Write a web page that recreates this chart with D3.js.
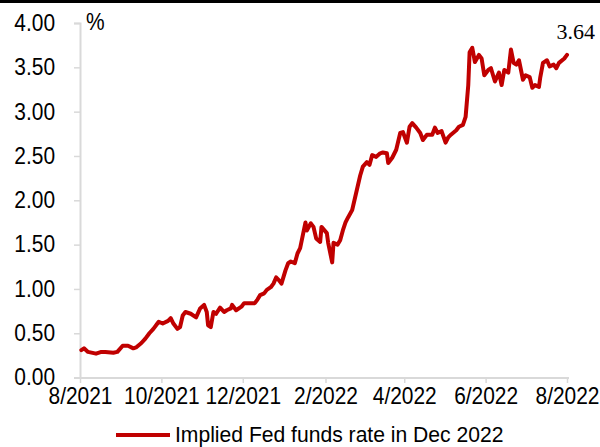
<!DOCTYPE html>
<html><head><meta charset="utf-8">
<script src="https://cdn.jsdelivr.net/npm/d3@7"></script>
<style>body{margin:0;background:#fff}svg{display:block}</style>
</head><body><svg id="c" width="600" height="447"></svg>
<script>
const dates = ["2021-08-02","2021-08-04","2021-08-07","2021-08-13","2021-08-17","2021-08-20","2021-08-26","2021-08-29","2021-09-02","2021-09-06","2021-09-10","2021-09-12","2021-09-16","2021-09-19","2021-09-22","2021-09-25","2021-09-28","2021-09-29","2021-10-02","2021-10-06","2021-10-08","2021-10-10","2021-10-13","2021-10-15","2021-10-17","2021-10-19","2021-10-23","2021-10-27","2021-10-30","2021-11-02","2021-11-04","2021-11-05","2021-11-07","2021-11-09","2021-11-11","2021-11-14","2021-11-17","2021-11-19","2021-11-22","2021-11-23","2021-11-26","2021-11-30","2021-12-02","2021-12-06","2021-12-10","2021-12-12","2021-12-14","2021-12-17","2021-12-19","2021-12-22","2021-12-24","2021-12-26","2021-12-28","2021-12-30","2022-01-02","2022-01-04","2022-01-06","2022-01-09","2022-01-11","2022-01-13","2022-01-17","2022-01-18","2022-01-21","2022-01-23","2022-01-25","2022-01-28","2022-01-29","2022-02-02","2022-02-03","2022-02-06","2022-02-07","2022-02-10","2022-02-12","2022-02-14","2022-02-16","2022-02-18","2022-02-21","2022-02-23","2022-02-25","2022-02-27","2022-03-01","2022-03-04","2022-03-06","2022-03-08","2022-03-11","2022-03-14","2022-03-16","2022-03-19","2022-03-20","2022-03-23","2022-03-26","2022-03-29","2022-03-31","2022-04-03","2022-04-05","2022-04-07","2022-04-10","2022-04-13","2022-04-15","2022-04-18","2022-04-22","2022-04-24","2022-04-26","2022-04-29","2022-05-02","2022-05-04","2022-05-06","2022-05-10","2022-05-12","2022-05-15","2022-05-17","2022-05-19","2022-05-20","2022-05-22","2022-05-24","2022-05-27","2022-05-29","2022-05-31","2022-06-03","2022-06-05","2022-06-08","2022-06-11","2022-06-13","2022-06-15","2022-06-18","2022-06-20","2022-06-22","2022-06-24","2022-06-26","2022-06-29","2022-07-01","2022-07-04","2022-07-06","2022-07-08","2022-07-11","2022-07-12","2022-07-14","2022-07-17","2022-07-19","2022-07-22","2022-07-24","2022-07-26","2022-07-30","2022-08-01"];
const rates = [0.31,0.33,0.29,0.27,0.29,0.29,0.28,0.29,0.36,0.36,0.33,0.34,0.39,0.44,0.50,0.55,0.61,0.63,0.61,0.64,0.67,0.61,0.55,0.57,0.70,0.74,0.72,0.68,0.78,0.82,0.74,0.59,0.57,0.74,0.72,0.79,0.74,0.76,0.78,0.82,0.76,0.80,0.84,0.84,0.84,0.88,0.93,0.95,0.99,1.02,1.06,1.13,1.10,1.06,1.21,1.29,1.31,1.29,1.40,1.46,1.75,1.66,1.74,1.70,1.57,1.53,1.70,1.63,1.52,1.30,1.52,1.50,1.55,1.66,1.75,1.81,1.89,2.02,2.15,2.28,2.38,2.43,2.40,2.51,2.49,2.53,2.54,2.53,2.42,2.48,2.57,2.76,2.77,2.65,2.83,2.87,2.82,2.76,2.68,2.74,2.74,2.82,2.76,2.78,2.65,2.71,2.74,2.79,2.83,2.85,2.94,3.30,3.67,3.72,3.56,3.64,3.60,3.41,3.47,3.49,3.34,3.44,3.30,3.47,3.44,3.70,3.55,3.53,3.58,3.36,3.41,3.39,3.27,3.30,3.28,3.39,3.55,3.58,3.51,3.53,3.49,3.55,3.60,3.64];
const xTickDates = ["2021-08-01","2021-10-01","2021-12-01","2022-02-01","2022-04-01","2022-06-01","2022-08-01"];
const yTicks = [0,0.5,1,1.5,2,2.5,3,3.5,4];
const seriesName = "Implied Fed funds rate in Dec 2022";
const lastLabel = "3.64";

const parse = d3.timeParse("%Y-%m-%d");
const data = dates.map((d,i)=>({date:parse(d), v:rates[i]}));
const svg = d3.select("#c");
const font = "'Liberation Sans', Arial, sans-serif";
const sx = 0.91; // horizontal condensing of labels

svg.append("rect").attr("x",0).attr("y",0).attr("width",600).attr("height",3).attr("fill","#000");

const x = d3.scaleTime().domain([parse("2021-08-01"), parse("2022-08-01")]).range([80,567]);
const y = d3.scaleLinear().domain([0,4]).range([377.6,23]);
const red = "#C00000";
const grey = "#d9d9d9";

// y axis
const ya = svg.append("g").attr("transform","translate(80,0)")
  .call(d3.axisLeft(y).tickValues(yTicks).tickFormat(d3.format(".2f")).tickSize(6).tickPadding(19));
ya.select(".domain").attr("stroke",grey).attr("stroke-width",2);
ya.selectAll(".tick line").attr("stroke",grey).attr("stroke-width",1.5);
ya.selectAll("text").attr("font-family",font).attr("font-size",23).attr("fill","#000")
  .attr("x",-25/sx).attr("transform",`scale(${sx},1)`);

// x axis
const xa = svg.append("g").attr("transform","translate(0,378)")
  .call(d3.axisBottom(x).tickValues(xTickDates.map(parse)).tickFormat(d=>(d.getMonth()+1)+"/"+d.getFullYear()).tickSize(5).tickPadding(5));
xa.select(".domain").attr("stroke",grey).attr("stroke-width",2).attr("d","M75,0H569");
xa.selectAll(".tick line").attr("stroke",grey).attr("stroke-width",1.5);
xa.selectAll("text").attr("font-family",font).attr("font-size",23).attr("fill","#000")
  .attr("transform",`scale(${sx},1)`);

svg.append("text").attr("transform",`translate(86,30) scale(${sx},1)`).attr("font-family",font).attr("font-size",23).text("%");

const line = d3.line().x(d=>x(d.date)).y(d=>y(d.v)).curve(d3.curveLinear);
svg.append("path").datum(data).attr("d",line).attr("fill","none").attr("stroke",red)
  .attr("stroke-width",4).attr("stroke-linejoin","round").attr("stroke-linecap","round");

const last = data[data.length-1];
svg.append("text").attr("x",x(last.date)+28).attr("y",y(last.v)-16).attr("text-anchor","end")
  .attr("font-family","'Liberation Serif','Times New Roman',serif").attr("font-size",22).text(lastLabel);

// legend
svg.append("line").attr("x1",116).attr("x2",170).attr("y1",435).attr("y2",435).attr("stroke",red).attr("stroke-width",4);
svg.append("text").attr("transform",`translate(175,442) scale(0.96,1)`).attr("font-family",font).attr("font-size",22).text(seriesName);
</script></body></html>
